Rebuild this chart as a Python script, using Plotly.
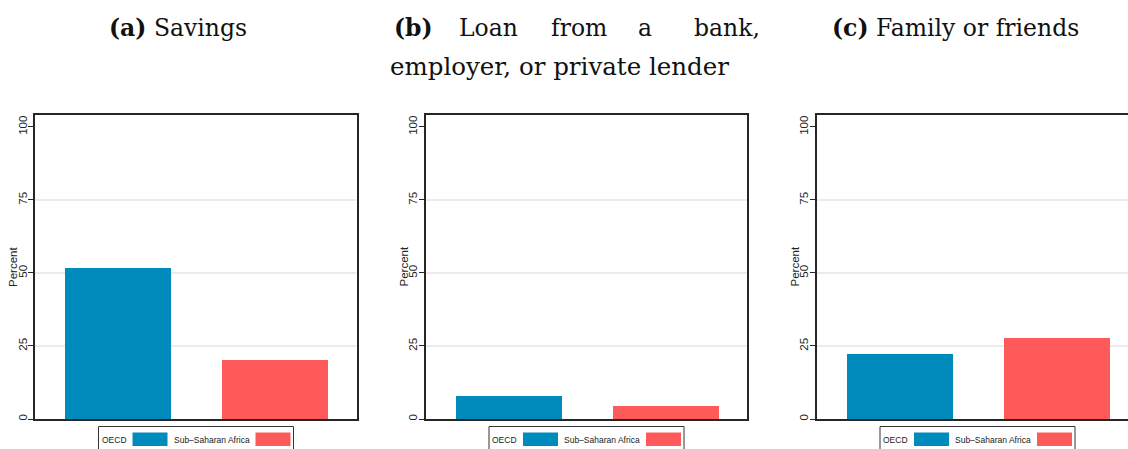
import plotly.graph_objects as go

# ---------------- data ----------------
PANEL_LABELS = ["(a)", "(b)", "(c)"]
PANEL_TITLES = ["Savings", "Loan from a bank, employer, or private lender", "Family or friends"]
GROUPS = ["OECD", "Sub–Saharan Africa"]
OECD = [51.6, 7.8, 22.2]
SSA = [20.2, 4.4, 27.7]
Y_TICKS = [0, 25, 50, 75, 100]
GRID_VALUES = [25, 50, 75]
Y_TITLE = "Percent"

# ---------------- style ----------------
COLORS = ["#008bbc", "#ff5a5a"]
W, H = 1128, 449
PANEL_LEFT = [35, 425.5, 816.5]
PANEL_W = 321.5
PLOT_TOP, PLOT_BOTTOM = 115, 419
UNIT_PX = 157.0
FIRST_BAR_OFFSET = 83.0
BAR_WIDTH = 0.669
AXIS_COLOR = "#262626"
GRID_COLOR = "#e4e4e4"
SANS = "Liberation Sans, Arial, Helvetica, sans-serif"
SERIF = "DejaVu Serif, serif"


def xp(px):
    return px / W


def yp(py):
    return 1 - py / H


fig = go.Figure()
layout = dict(
    width=W, height=H,
    margin=dict(l=0, r=0, t=0, b=0),
    paper_bgcolor="white", plot_bgcolor="white",
    showlegend=False, bargap=0,
)
shapes = []
annotations = []

for i in range(3):
    n = "" if i == 0 else str(i + 1)
    left = PANEL_LEFT[i]
    right = min(left + PANEL_W, W)
    x_start = -FIRST_BAR_OFFSET / UNIT_PX
    x_end = x_start + (right - left) / UNIT_PX
    vals = [OECD[i], SSA[i]]
    fig.add_trace(go.Bar(
        x=[0, 1], y=vals, width=BAR_WIDTH,
        marker=dict(color=COLORS, line=dict(width=0)),
        xaxis="x" + n, yaxis="y" + n, name=PANEL_TITLES[i],
    ))
    layout["xaxis" + n] = dict(
        domain=[xp(left), xp(right)], range=[x_start, x_end],
        anchor="y" + n, showticklabels=False, ticks="", showgrid=False,
        zeroline=False, showline=True, linecolor=AXIS_COLOR, linewidth=1.6,
        mirror=True, fixedrange=True,
    )
    layout["yaxis" + n] = dict(
        domain=[yp(PLOT_BOTTOM), yp(PLOT_TOP)], range=[0, 104.1],
        anchor="x" + n, tickmode="array", tickvals=Y_TICKS,
        ticktext=[str(v) for v in Y_TICKS],
        ticks="outside", ticklen=5, tickcolor=AXIS_COLOR, tickwidth=1.2,
        tickangle=-90, ticklabelstandoff=-3,
        tickfont=dict(family=SANS, size=11.5, color="#222"),
        showgrid=False, zeroline=False, showline=True, linecolor=AXIS_COLOR,
        linewidth=1.6, mirror=(i < 2), fixedrange=True,
    )
    # gridlines
    for g in GRID_VALUES:
        shapes.append(dict(
            type="line", xref="x" + n + " domain", yref="y" + n,
            x0=0, x1=1, y0=g, y1=g, layer="below",
            line=dict(color=GRID_COLOR, width=1.3),
        ))
    # y title
    annotations.append(dict(
        text=Y_TITLE, xref="paper", yref="paper",
        x=xp(left - 22), y=yp((PLOT_TOP + PLOT_BOTTOM) / 2),
        xanchor="center", yanchor="middle", textangle=-90, showarrow=False,
        font=dict(family=SANS, size=11.5, color="#222"),
    ))
    # legend box
    shapes.append(dict(
        type="rect", xref="paper", yref="paper",
        x0=xp(left + 63.5), x1=xp(left + 258.5), y0=yp(470), y1=yp(426.5),
        line=dict(color="#333", width=1), fillcolor="rgba(0,0,0,0)",
    ))
    sw_left = [97.5, 220.5]
    for k in range(2):
        shapes.append(dict(
            type="rect", xref="paper", yref="paper",
            x0=xp(left + sw_left[k]), x1=xp(left + sw_left[k] + 35),
            y0=yp(446), y1=yp(432.5),
            line=dict(width=0), fillcolor=COLORS[k],
        ))
        annotations.append(dict(
            text=GROUPS[k], xref="paper", yref="paper",
            x=xp(left + sw_left[k] - 4), y=yp(439.5),
            xanchor="right", yanchor="middle", showarrow=False,
            font=dict(family=SANS, size=8.5, color="#222"),
        ))

# ---------------- titles ----------------
title_font = dict(family=SERIF, size=23.5, color="#111")
annotations.append(dict(
    text="<b>" + PANEL_LABELS[0] + "</b> " + PANEL_TITLES[0],
    xref="paper", yref="paper", x=xp(178), y=yp(28.5),
    xanchor="center", yanchor="middle", showarrow=False, font=title_font,
))
annotations.append(dict(
    text="<b>" + PANEL_LABELS[2] + "</b> " + PANEL_TITLES[2],
    xref="paper", yref="paper", x=xp(955), y=yp(28.5),
    xanchor="center", yanchor="middle", showarrow=False, font=title_font,
))
words_b = PANEL_TITLES[1].split()
line1 = ["<b>" + PANEL_LABELS[1] + "</b>"] + words_b[:4]
line1_x = [392, 488.5, 578.5, 644.5, 762]
line1_anchor = ["left", "center", "center", "center", "right"]
for w, x, a in zip(line1, line1_x, line1_anchor):
    annotations.append(dict(
        text=w, xref="paper", yref="paper", x=xp(x), y=yp(28.5),
        xanchor=a, yanchor="middle", showarrow=False, font=title_font,
    ))
annotations.append(dict(
    text=" ".join(words_b[4:]), xref="paper", yref="paper", x=xp(388), y=yp(66.5),
    xanchor="left", yanchor="middle", showarrow=False,
    font=dict(family=SERIF, size=24.5, color="#111"),
))

layout["shapes"] = shapes
layout["annotations"] = annotations
fig.update_layout(**layout)
fig.write_html(
    "out.html",
    config={"displayModeBar": False},
    post_script="document.body.style.margin='0px';document.body.style.overflow='hidden';",
)
